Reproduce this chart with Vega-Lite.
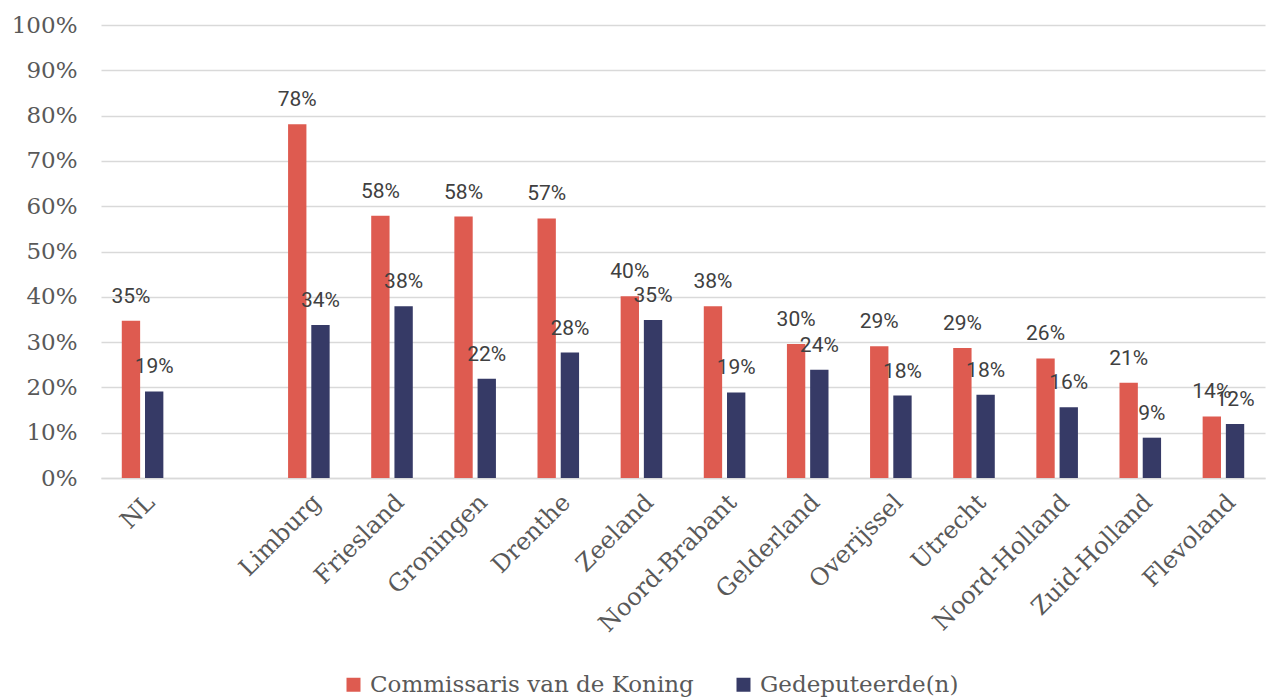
{
  "$schema": "https://vega.github.io/schema/vega-lite/v6.json",
  "width": 1164,
  "height": 453,
  "autosize": {"type": "none"},
  "padding": {"left": 101, "top": 25, "right": 8, "bottom": 222},
  "background": "white",
  "config": {"view": {"stroke": null}, "font": "DejaVu Serif"},
  "data": {"values": [
    {"region": "NL", "series": "Commissaris van de Koning", "v": 0.347},
    {"region": "NL", "series": "Gedeputeerde(n)", "v": 0.191},
    {"region": "Limburg", "series": "Commissaris van de Koning", "v": 0.781},
    {"region": "Limburg", "series": "Gedeputeerde(n)", "v": 0.338},
    {"region": "Friesland", "series": "Commissaris van de Koning", "v": 0.579},
    {"region": "Friesland", "series": "Gedeputeerde(n)", "v": 0.379},
    {"region": "Groningen", "series": "Commissaris van de Koning", "v": 0.577},
    {"region": "Groningen", "series": "Gedeputeerde(n)", "v": 0.219},
    {"region": "Drenthe", "series": "Commissaris van de Koning", "v": 0.573},
    {"region": "Drenthe", "series": "Gedeputeerde(n)", "v": 0.277},
    {"region": "Zeeland", "series": "Commissaris van de Koning", "v": 0.401},
    {"region": "Zeeland", "series": "Gedeputeerde(n)", "v": 0.349},
    {"region": "Noord-Brabant", "series": "Commissaris van de Koning", "v": 0.379},
    {"region": "Noord-Brabant", "series": "Gedeputeerde(n)", "v": 0.189},
    {"region": "Gelderland", "series": "Commissaris van de Koning", "v": 0.296},
    {"region": "Gelderland", "series": "Gedeputeerde(n)", "v": 0.239},
    {"region": "Overijssel", "series": "Commissaris van de Koning", "v": 0.291},
    {"region": "Overijssel", "series": "Gedeputeerde(n)", "v": 0.182},
    {"region": "Utrecht", "series": "Commissaris van de Koning", "v": 0.287},
    {"region": "Utrecht", "series": "Gedeputeerde(n)", "v": 0.184},
    {"region": "Noord-Holland", "series": "Commissaris van de Koning", "v": 0.264},
    {"region": "Noord-Holland", "series": "Gedeputeerde(n)", "v": 0.156},
    {"region": "Zuid-Holland", "series": "Commissaris van de Koning", "v": 0.21},
    {"region": "Zuid-Holland", "series": "Gedeputeerde(n)", "v": 0.089},
    {"region": "Flevoland", "series": "Commissaris van de Koning", "v": 0.136},
    {"region": "Flevoland", "series": "Gedeputeerde(n)", "v": 0.119}
  ]},
  "encoding": {
    "x": {
      "field": "region", "type": "nominal", "sort": null,
      "scale": {"domain": ["NL", " ", "Limburg", "Friesland", "Groningen", "Drenthe", "Zeeland", "Noord-Brabant", "Gelderland", "Overijssel", "Utrecht", "Noord-Holland", "Zuid-Holland", "Flevoland"], "paddingInner": 0.5, "paddingOuter": 0.25},
      "axis": {"title": null, "labelAngle": -45, "labelFontSize": 24, "labelColor": "#595959", "ticks": false, "domain": true, "domainColor": "#d9d9d9", "domainWidth": 1.5, "labelPadding": 12, "labelFont": "DejaVu Serif", "labelLimit": 400}
    },
    "xOffset": {"field": "series", "type": "nominal", "sort": null, "scale": {"domain": ["Commissaris van de Koning", "Gedeputeerde(n)"], "paddingInner": 0.21}},
    "y": {
      "field": "v", "type": "quantitative", "scale": {"domain": [0, 1]},
      "axis": {"title": null, "values": [0, 0.1, 0.2, 0.3, 0.4, 0.5, 0.6, 0.7, 0.8, 0.9, 1], "format": ".0%", "grid": true, "gridColor": "#d9d9d9", "gridWidth": 1.5, "domain": false, "ticks": false, "labelFontSize": 23, "labelColor": "#595959", "labelPadding": 24, "labelFont": "DejaVu Serif"}
    }
  },
  "layer": [
    {
      "mark": {"type": "bar"},
      "encoding": {
        "color": {
          "field": "series", "type": "nominal",
          "scale": {"domain": ["Commissaris van de Koning", "Gedeputeerde(n)"], "range": ["#DE5B50", "#363A66"]},
          "legend": {"title": null, "orient": "none", "legendX": 241, "legendY": 648, "direction": "horizontal", "symbolType": "square", "symbolSize": 196, "symbolStrokeWidth": 0, "labelFontSize": 23, "labelColor": "#595959", "labelFont": "DejaVu Serif", "labelLimit": 600, "columnPadding": 38, "labelOffset": 5}
        }
      }
    },
    {
      "mark": {"type": "text", "baseline": "bottom", "dy": -14, "font": "Roboto", "fontSize": 21, "color": "#404040"},
      "encoding": {"text": {"field": "v", "type": "quantitative", "format": ".0%"}}
    }
  ]
}
